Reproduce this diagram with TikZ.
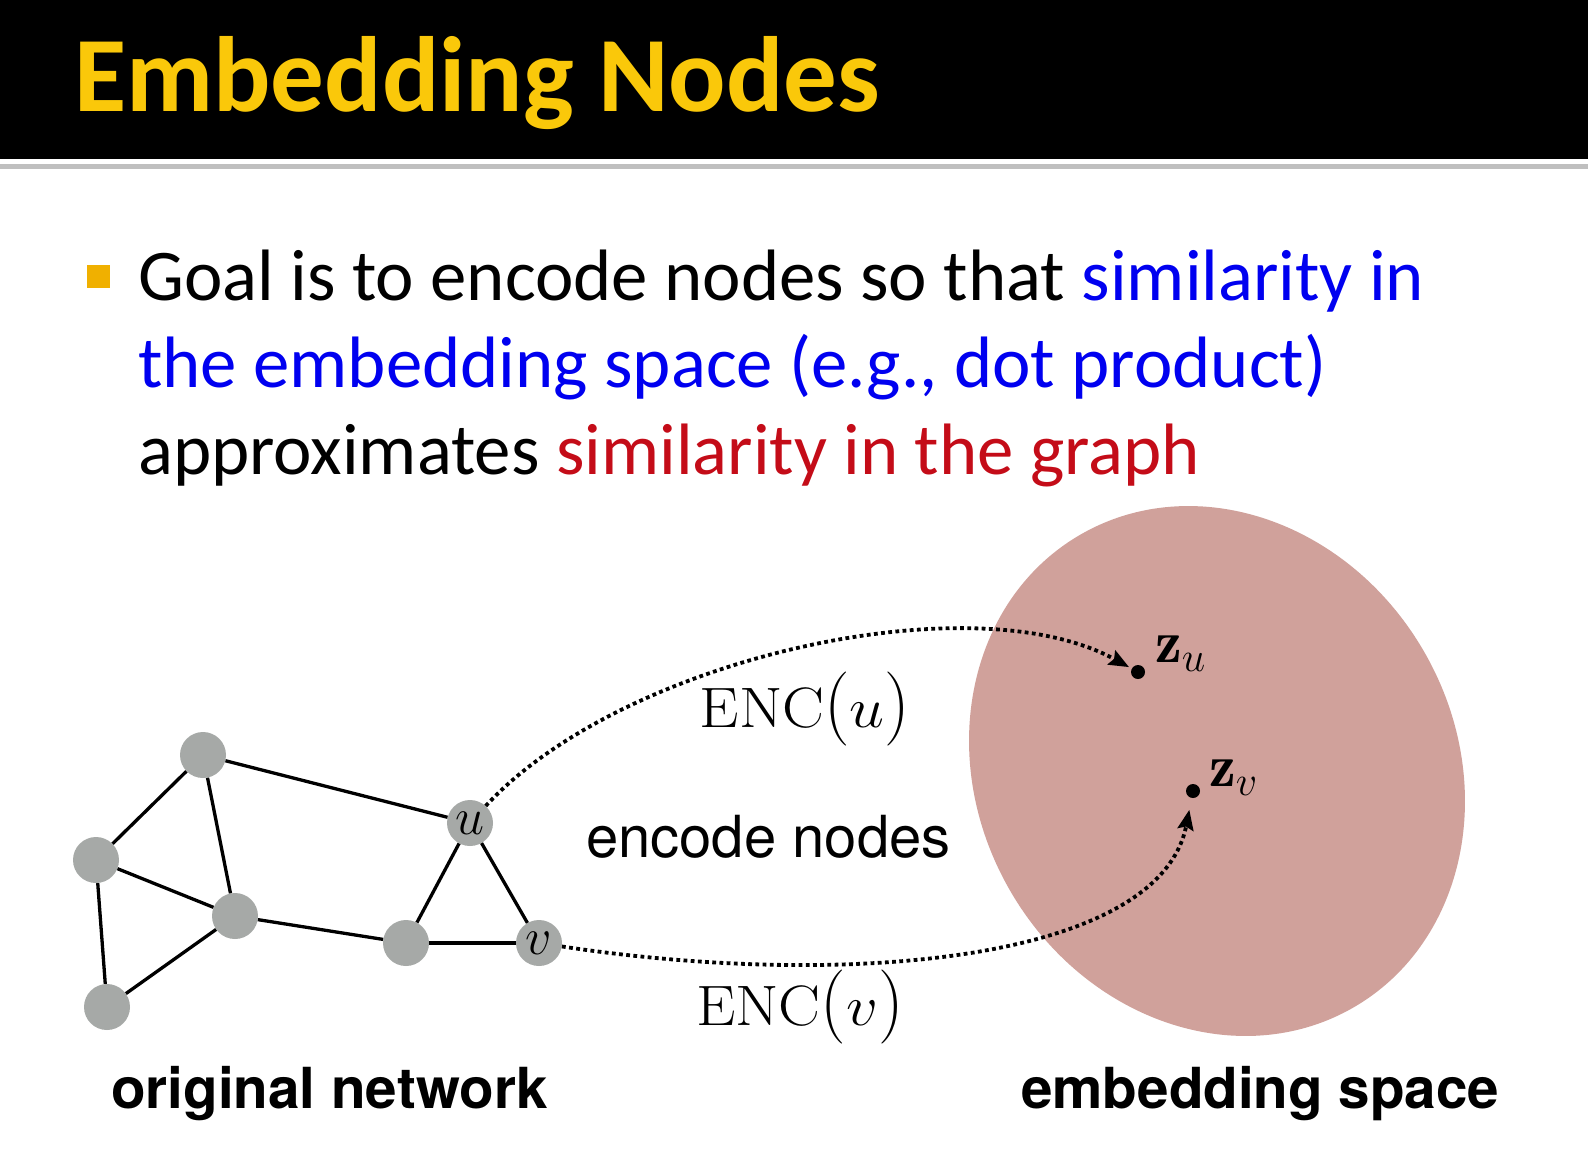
\RequirePackage{fix-cm}
\documentclass[tikz,border=0pt]{standalone}
\usepackage{graphicx}
\usepackage{fontspec}
\newfontfamily\carlito{Carlito}
\newfontfamily\heros{TeX Gyre Heros}
\usetikzlibrary{arrows.meta,shapes.geometric}
\definecolor{titlegold}{RGB}{250,200,10}
\definecolor{bulletorange}{RGB}{240,176,0}
\definecolor{simblue}{RGB}{0,0,240}
\definecolor{simred}{RGB}{196,12,24}
\definecolor{nodegray}{RGB}{166,169,167}
\definecolor{ellfill}{RGB}{208,161,155}
\newcommand{\tallparen}[1]{\scalebox{1.15}[1.3]{$#1$}}
\newcommand{\enclab}[1]{\scalebox{1.1}[1]{$\mathrm{ENC}\tallparen{(}#1\tallparen{)}$}}
\begin{document}
\begin{tikzpicture}[x=1pt,y=-1pt,
  gnode/.style={circle,fill=nodegray,minimum size=46pt,inner sep=0pt,
    font=\fontsize{52}{52}\selectfont},
  gedge/.style={line width=3.3pt,black},
  zdot/.style={circle,fill=black,minimum size=14pt,inner sep=0pt},
  encarrow/.style={line width=3.8pt,dash pattern=on 3.8pt off 3.4pt,
    -{Stealth[length=20pt,width=16pt,inset=3pt]}},
  bodytext/.style={anchor=base west,inner sep=0pt,
    font=\carlito\fontsize{72.8}{87}\selectfont},
  caption/.style={anchor=base west,inner sep=0pt,
    font=\heros\bfseries\fontsize{56.6}{60}\selectfont},
  enclabel/.style={anchor=base,inner sep=0pt,font=\fontsize{57}{57}\selectfont},
  zlabel/.style={anchor=base west,inner sep=0pt,font=\fontsize{60}{60}\selectfont}
]
\useasboundingbox (0,0) rectangle (1588,1168);
\fill[white] (0,0) rectangle (1588,1168);
% header
\fill[black] (0,0) rectangle (1588,159);
\fill[gray!50] (0,164) rectangle (1588,169);
\node[anchor=base west,inner sep=0pt,text=titlegold,
  font=\carlito\bfseries\fontsize{107}{112}\selectfont] (title) at (74,111) {Embedding Nodes};
% bullet text
\node[fill=bulletorange,minimum size=23pt,inner sep=0pt] (bul) at (98.5,276.5) {};
\node[bodytext] (l1) at (138,300) {Goal is to encode nodes so that \textcolor{simblue}{similarity in}};
\node[bodytext,text=simblue] (l2) at (138,387) {the embedding space (e.g., dot product)};
\node[bodytext] (l3) at (138,474) {approximates \textcolor{simred}{similarity in the graph}};
% embedding space
\node[ellipse,fill=ellfill,rotate=30,minimum width=478pt,minimum height=546pt,inner sep=0pt] (emb) at (1217,771) {};
% graph
\node[gnode] (n1) at (203,755) {};
\node[gnode] (n2) at (96,860) {};
\node[gnode] (n3) at (235,916) {};
\node[gnode] (n4) at (107,1007) {};
\node[gnode] (n5) at (406,943) {};
\node[gnode] (u) at (470,823) {$u$};
\node[gnode] (v) at (539,943) {$v$};
\draw[gedge] (n1) -- (n2);
\draw[gedge] (n1) -- (n3);
\draw[gedge] (n1) -- (u);
\draw[gedge] (n2) -- (n3);
\draw[gedge] (n2) -- (n4);
\draw[gedge] (n3) -- (n4);
\draw[gedge] (n3) -- (n5);
\draw[gedge] (n5) -- (u);
\draw[gedge] (n5) -- (v);
\draw[gedge] (u) -- (v);
% embedded points
\node[zdot] (zu) at (1138,672) {};
\node[zdot] (zv) at (1193,791) {};
\node[zlabel] (zul) at (1155,662) {$\mathbf{z}_u$};
\node[zlabel] (zvl) at (1209,786) {$\mathbf{z}_v$};
% encoder arrows
\draw[encarrow,shorten >=3pt] (u) .. controls (620,660) and (970,580) .. (zu);
\draw[encarrow,shorten >=12pt] (v) .. controls (850,990) and (1160,960) .. (zv);
\node[enclabel] (encu) at (805,727) {\enclab{u}};
\node[enclabel] (encv) at (800,1025) {\enclab{v}};
\node[anchor=base west,inner sep=0pt,font=\heros\fontsize{58}{58}\selectfont] (encn) at (586,857) {encode nodes};
% captions
\node[caption] (orig) at (111,1108) {original network};
\node[caption] (embs) at (1021,1108) {embedding space};
\end{tikzpicture}
\end{document}
